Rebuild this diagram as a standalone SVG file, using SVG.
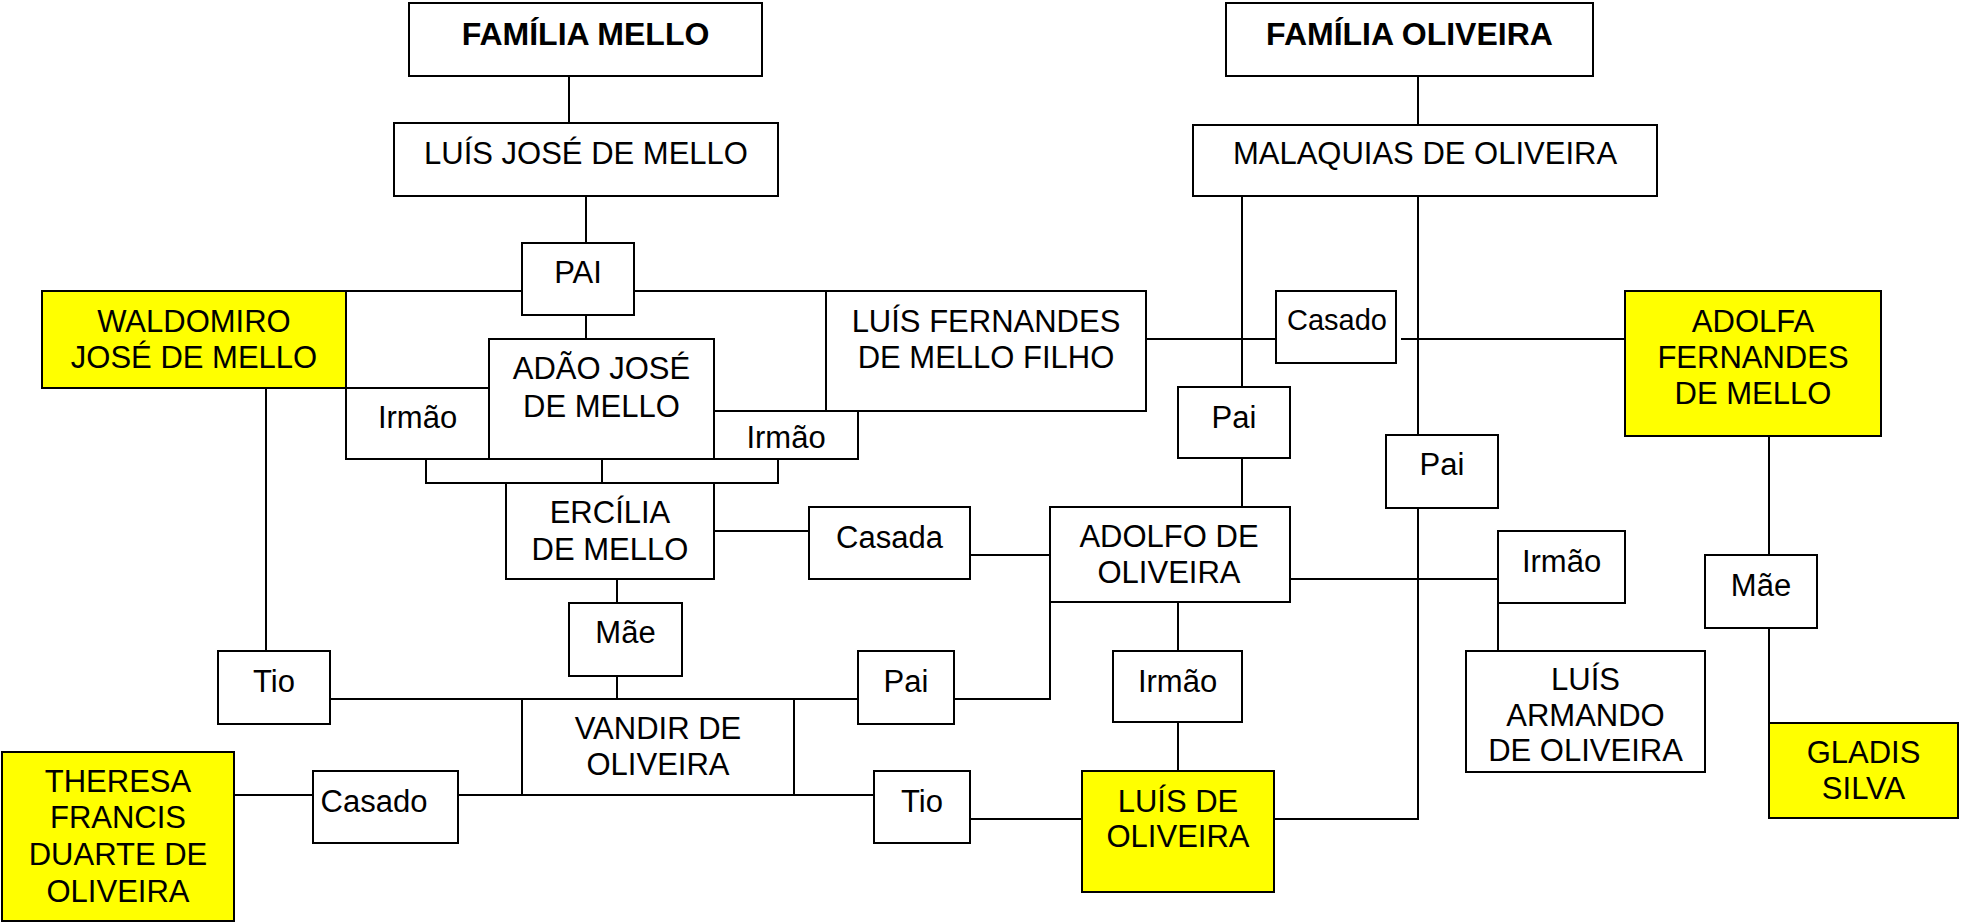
<svg xmlns="http://www.w3.org/2000/svg" width="1961" height="922" viewBox="0 0 1961 922">
<style>
.b{fill:#fff;stroke:#000;stroke-width:2}
.y{fill:#ffff00;stroke:#000;stroke-width:2}
.c{fill:none;stroke:#000;stroke-width:2}
text{font-family:"Liberation Sans",Arial,sans-serif;font-size:31px;fill:#000;text-anchor:middle}
.h{font-weight:bold;font-size:32px}
</style>
<rect width="1961" height="922" fill="#fff"/>
<g id="connectors">
<path class="c" d="M569,76V123 M586,196V243 M346,291H522 M634,291H826 M586,315V339 M266,388V651 M426,459V483H778V459 M602,459V483 M714,531H809 M970,555H1050 M617,579V603 M617,676V699 M330,699H858 M954,699H1050V602 M234,795H313 M458,795H874 M970,819H1082 M1418,76V125 M1242,196V387 M1242,458V507 M1418,196V435 M1418,508V819H1274 M1146,339H1276 M1401,339H1625 M1290,579H1498 M1498,603V651 M1178,602V651 M1178,722V771 M1769,436V555 M1769,628V723"/>
</g>
<g id="familia-mello"><rect class="b" x="409" y="3" width="353" height="73"/><text class="h" x="585.5" y="45">FAMÍLIA MELLO</text></g>
<g id="luis-jose"><rect class="b" x="394" y="123" width="384" height="73"/><text x="586" y="164">LUÍS JOSÉ DE MELLO</text></g>
<g id="pai-top"><rect class="b" x="522" y="243" width="112" height="72"/><text x="578" y="283">PAI</text></g>
<g id="waldomiro"><rect class="y" x="42" y="291" width="304" height="97"/><text x="194" y="332">WALDOMIRO</text><text x="194" y="368">JOSÉ DE MELLO</text></g>
<g id="irmao-left"><rect class="b" x="346" y="388" width="143" height="71"/><text x="417.5" y="428">Irmão</text></g>
<g id="adao"><rect class="b" x="489" y="339" width="225" height="120"/><text x="601.5" y="379">ADÃO JOSÉ</text><text x="601.5" y="417">DE MELLO</text></g>
<g id="irmao-right"><rect class="b" x="714" y="411" width="144" height="48"/><text x="786" y="448">Irmão</text></g>
<g id="luis-fernandes"><rect class="b" x="826" y="291" width="320" height="120"/><text x="986" y="332">LUÍS FERNANDES</text><text x="986" y="368">DE MELLO FILHO</text></g>
<g id="ercilia"><rect class="b" x="506" y="483" width="208" height="96"/><text x="610" y="523">ERCÍLIA</text><text x="610" y="560">DE MELLO</text></g>
<g id="casada"><rect class="b" x="809" y="507" width="161" height="72"/><text x="889.5" y="548">Casada</text></g>
<g id="mae-left"><rect class="b" x="569" y="603" width="113" height="73"/><text x="625.5" y="643">Mãe</text></g>
<g id="tio-left"><rect class="b" x="218" y="651" width="112" height="73"/><text x="274" y="692">Tio</text></g>
<g id="vandir"><rect class="b" x="522" y="699" width="272" height="96"/><text x="658" y="739">VANDIR DE</text><text x="658" y="775">OLIVEIRA</text></g>
<g id="pai-vandir"><rect class="b" x="858" y="651" width="96" height="73"/><text x="906" y="692">Pai</text></g>
<g id="theresa"><rect class="y" x="2" y="752" width="232" height="169"/><text x="118" y="792">THERESA</text><text x="118" y="828">FRANCIS</text><text x="118" y="865">DUARTE DE</text><text x="118" y="902">OLIVEIRA</text></g>
<g id="casado-bottom"><rect class="b" x="313" y="771" width="145" height="72"/><text x="374" y="812">Casado</text></g>
<g id="tio-right"><rect class="b" x="874" y="771" width="96" height="72"/><text x="922" y="812">Tio</text></g>
<g id="familia-oliveira"><rect class="b" x="1226" y="3" width="367" height="73"/><text class="h" x="1409.5" y="45">FAMÍLIA OLIVEIRA</text></g>
<g id="malaquias"><rect class="b" x="1193" y="125" width="464" height="71"/><text x="1425" y="164">MALAQUIAS DE OLIVEIRA</text></g>
<g id="casado-top"><rect class="b" x="1276" y="291" width="120" height="72"/><text x="1337" y="330" style="font-size:29px">Casado</text></g>
<g id="adolfa"><rect class="y" x="1625" y="291" width="256" height="145"/><text x="1753" y="332">ADOLFA</text><text x="1753" y="368">FERNANDES</text><text x="1753" y="404">DE MELLO</text></g>
<g id="pai-mid"><rect class="b" x="1178" y="387" width="112" height="71"/><text x="1234" y="428">Pai</text></g>
<g id="pai-right"><rect class="b" x="1386" y="435" width="112" height="73"/><text x="1442" y="475">Pai</text></g>
<g id="adolfo"><rect class="b" x="1050" y="507" width="240" height="95"/><text x="1169" y="547">ADOLFO DE</text><text x="1169" y="583">OLIVEIRA</text></g>
<g id="irmao-armando"><rect class="b" x="1498" y="531" width="127" height="72"/><text x="1561.5" y="572">Irmão</text></g>
<g id="mae-right"><rect class="b" x="1705" y="555" width="112" height="73"/><text x="1761" y="596">Mãe</text></g>
<g id="irmao-mid"><rect class="b" x="1113" y="651" width="129" height="71"/><text x="1177.5" y="692">Irmão</text></g>
<g id="luis-armando"><rect class="b" x="1466" y="651" width="239" height="121"/><text x="1585.5" y="690">LUÍS</text><text x="1585.5" y="726">ARMANDO</text><text x="1585.5" y="761">DE OLIVEIRA</text></g>
<g id="luis-oliveira"><rect class="y" x="1082" y="771" width="192" height="121"/><text x="1178" y="812">LUÍS DE</text><text x="1178" y="847">OLIVEIRA</text></g>
<g id="gladis"><rect class="y" x="1769" y="723" width="189" height="95"/><text x="1863.5" y="763">GLADIS</text><text x="1863.5" y="799">SILVA</text></g>
</svg>
